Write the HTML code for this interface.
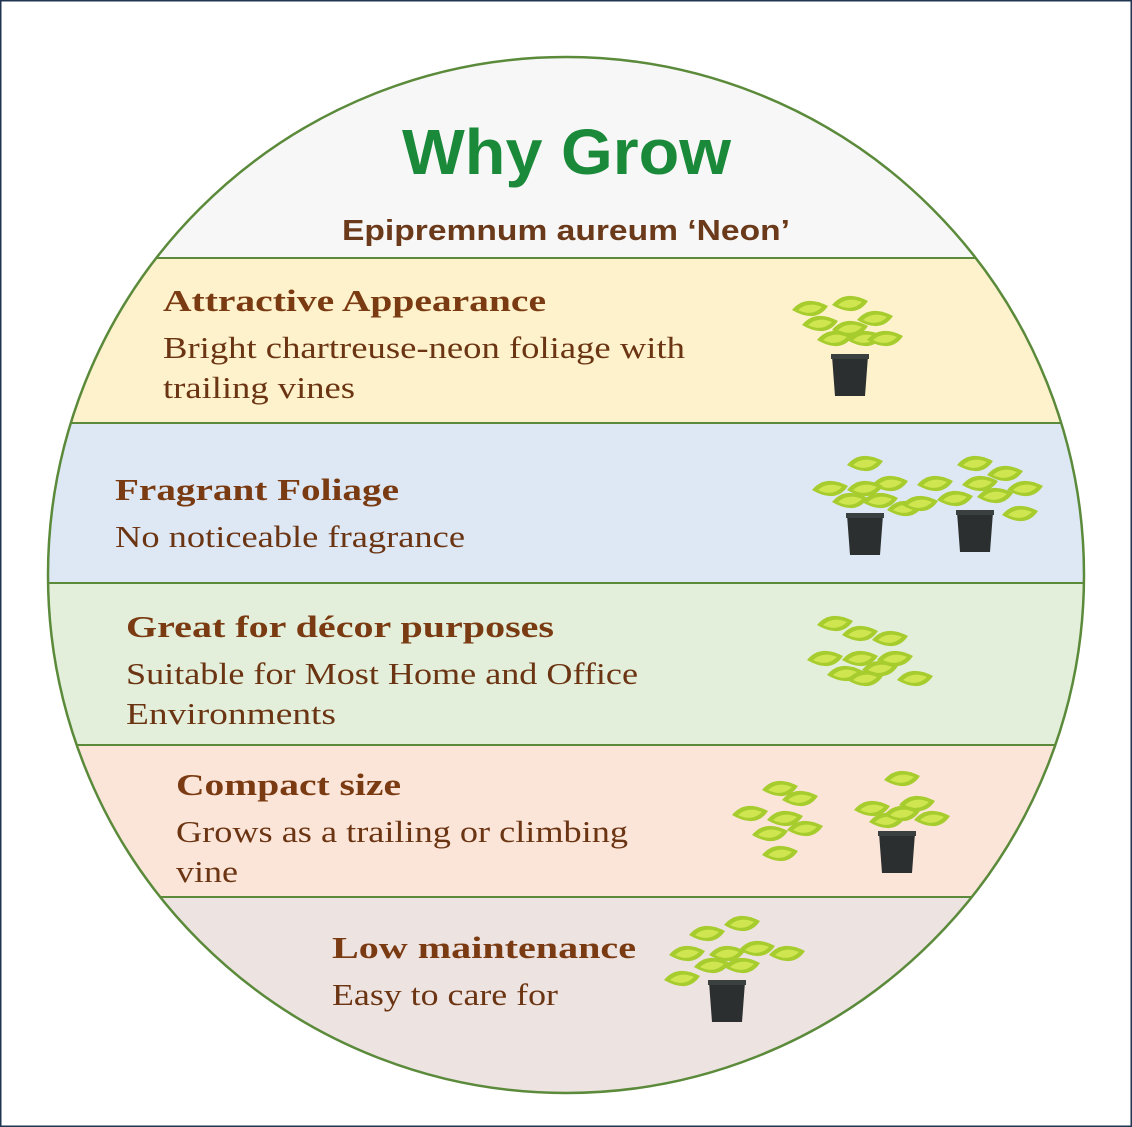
<!DOCTYPE html>
<html><head><meta charset="utf-8"><style>
html,body{margin:0;padding:0;background:#fff}
svg{display:block}
.h{font-family:"Liberation Serif",serif;font-weight:bold;font-size:31px;fill:#7a3a12}
.b{font-family:"Liberation Serif",serif;font-size:31px;fill:#6b3412}
</style></head><body>
<svg width="1132" height="1127" viewBox="0 0 1132 1127" xmlns="http://www.w3.org/2000/svg">
<defs>
<clipPath id="c"><circle cx="566" cy="575" r="518"/></clipPath>
<g id="pot"><path d="M-18 0 L18 0 L15 40 L-15 40 Z" fill="#2b2f2f"/><rect x="-19" y="-2" width="38" height="5" fill="#3a3f3f"/></g>
<g id="lv"><path d="M-18 0 Q-5 -16 18 -4 Q6 14 -18 0 Z" fill="#a6cc2e"/><path d="M-12 0 Q-2 -9 12 -3 Q2 7 -12 0 Z" fill="#cfe650"/></g>
</defs>
<rect x="0.5" y="0.5" width="1131" height="1126" fill="#fff" stroke="#1f3550" stroke-width="2"/>
<g clip-path="url(#c)">
<rect x="0" y="0" width="1132" height="258" fill="#f7f7f7"/>
<rect x="0" y="258" width="1132" height="165" fill="#fdf2cc"/>
<rect x="0" y="423" width="1132" height="160" fill="#dde8f4"/>
<rect x="0" y="583" width="1132" height="162" fill="#e3efda"/>
<rect x="0" y="745" width="1132" height="152" fill="#fbe5d8"/>
<rect x="0" y="897" width="1132" height="230" fill="#ede3e0"/>
<g stroke="#5a8a3a" stroke-width="2">
<line x1="0" y1="258" x2="1132" y2="258"/><line x1="0" y1="423" x2="1132" y2="423"/>
<line x1="0" y1="583" x2="1132" y2="583"/><line x1="0" y1="745" x2="1132" y2="745"/>
<line x1="0" y1="897" x2="1132" y2="897"/></g>
</g>
<circle cx="566" cy="575" r="518" fill="none" stroke="#5a8a3a" stroke-width="2.5"/>
<text x="402" y="174" textLength="329" lengthAdjust="spacingAndGlyphs" font-family="Liberation Sans,sans-serif" font-weight="bold" font-size="64" fill="#1a8a3a">Why Grow</text>
<text x="342" y="240" textLength="448" lengthAdjust="spacingAndGlyphs" font-family="Liberation Sans,sans-serif" font-weight="bold" font-size="29" fill="#6b3a1a">Epipremnum aureum ‘Neon’</text>
<text class="h" x="163" y="311" textLength="383" lengthAdjust="spacingAndGlyphs">Attractive Appearance</text>
<text class="b" x="163" y="358" textLength="522" lengthAdjust="spacingAndGlyphs">Bright chartreuse-neon foliage with</text>
<text class="b" x="163" y="398" textLength="192" lengthAdjust="spacingAndGlyphs">trailing vines</text>
<text class="h" x="115" y="500" textLength="284" lengthAdjust="spacingAndGlyphs">Fragrant Foliage</text>
<text class="b" x="115" y="547" textLength="350" lengthAdjust="spacingAndGlyphs">No noticeable fragrance</text>
<text class="h" x="126" y="637" textLength="428" lengthAdjust="spacingAndGlyphs">Great for décor purposes</text>
<text class="b" x="126" y="684" textLength="512" lengthAdjust="spacingAndGlyphs">Suitable for Most Home and Office</text>
<text class="b" x="126" y="724" textLength="210" lengthAdjust="spacingAndGlyphs">Environments</text>
<text class="h" x="176" y="795" textLength="225" lengthAdjust="spacingAndGlyphs">Compact size</text>
<text class="b" x="176" y="842" textLength="452" lengthAdjust="spacingAndGlyphs">Grows as a trailing or climbing</text>
<text class="b" x="176" y="882" textLength="62" lengthAdjust="spacingAndGlyphs">vine</text>
<text class="h" x="332" y="958" textLength="304" lengthAdjust="spacingAndGlyphs">Low maintenance</text>
<text class="b" x="332" y="1005" textLength="226" lengthAdjust="spacingAndGlyphs">Easy to care for</text>
<!-- plants -->
<g transform="translate(850,356)"><use href="#pot"/></g>
<g transform="translate(850,325)"><use href="#lv" x="-30" y="0"/><use href="#lv" x="25" y="-5"/><use href="#lv" x="0" y="-20"/><use href="#lv" x="-15" y="15"/><use href="#lv" x="15" y="15"/><use href="#lv" x="-40" y="-15"/><use href="#lv" x="35" y="15"/><use href="#lv" x="0" y="5"/></g>
<g transform="translate(865,515)"><use href="#pot"/></g>
<g transform="translate(865,490)"><use href="#lv" x="-35" y="0"/><use href="#lv" x="25" y="-5"/><use href="#lv" x="0" y="-25"/><use href="#lv" x="-15" y="12"/><use href="#lv" x="15" y="12"/><use href="#lv" x="40" y="20"/><use href="#lv" x="0" y="0"/></g>
<g transform="translate(975,512)"><use href="#pot"/></g>
<g transform="translate(975,485)"><use href="#lv" x="-40" y="0"/><use href="#lv" x="30" y="-10"/><use href="#lv" x="0" y="-20"/><use href="#lv" x="-20" y="15"/><use href="#lv" x="20" y="12"/><use href="#lv" x="50" y="5"/><use href="#lv" x="45" y="30"/><use href="#lv" x="-55" y="20"/><use href="#lv" x="5" y="0"/></g>
<g transform="translate(865,660)"><use href="#lv" x="-40" y="0"/><use href="#lv" x="25" y="-20"/><use href="#lv" x="-5" y="-25"/><use href="#lv" x="-20" y="15"/><use href="#lv" x="15" y="10"/><use href="#lv" x="50" y="20"/><use href="#lv" x="-30" y="-35"/><use href="#lv" x="0" y="20"/><use href="#lv" x="30" y="0"/><use href="#lv" x="-5" y="0"/></g>
<g transform="translate(780,815)"><use href="#lv" x="-30" y="0"/><use href="#lv" x="20" y="-15"/><use href="#lv" x="0" y="-25"/><use href="#lv" x="-10" y="20"/><use href="#lv" x="25" y="15"/><use href="#lv" x="0" y="40"/><use href="#lv" x="5" y="5"/></g>
<g transform="translate(897,833)"><use href="#pot"/></g>
<g transform="translate(897,810)"><use href="#lv" x="-25" y="0"/><use href="#lv" x="20" y="-5"/><use href="#lv" x="5" y="-30"/><use href="#lv" x="-10" y="12"/><use href="#lv" x="35" y="10"/><use href="#lv" x="5" y="5"/></g>
<g transform="translate(727,982)"><use href="#pot"/></g>
<g transform="translate(727,955)"><use href="#lv" x="-40" y="0"/><use href="#lv" x="30" y="-5"/><use href="#lv" x="15" y="-30"/><use href="#lv" x="-15" y="12"/><use href="#lv" x="15" y="12"/><use href="#lv" x="60" y="0"/><use href="#lv" x="-45" y="25"/><use href="#lv" x="-20" y="-20"/><use href="#lv" x="0" y="0"/></g>
</svg>
</body></html>
